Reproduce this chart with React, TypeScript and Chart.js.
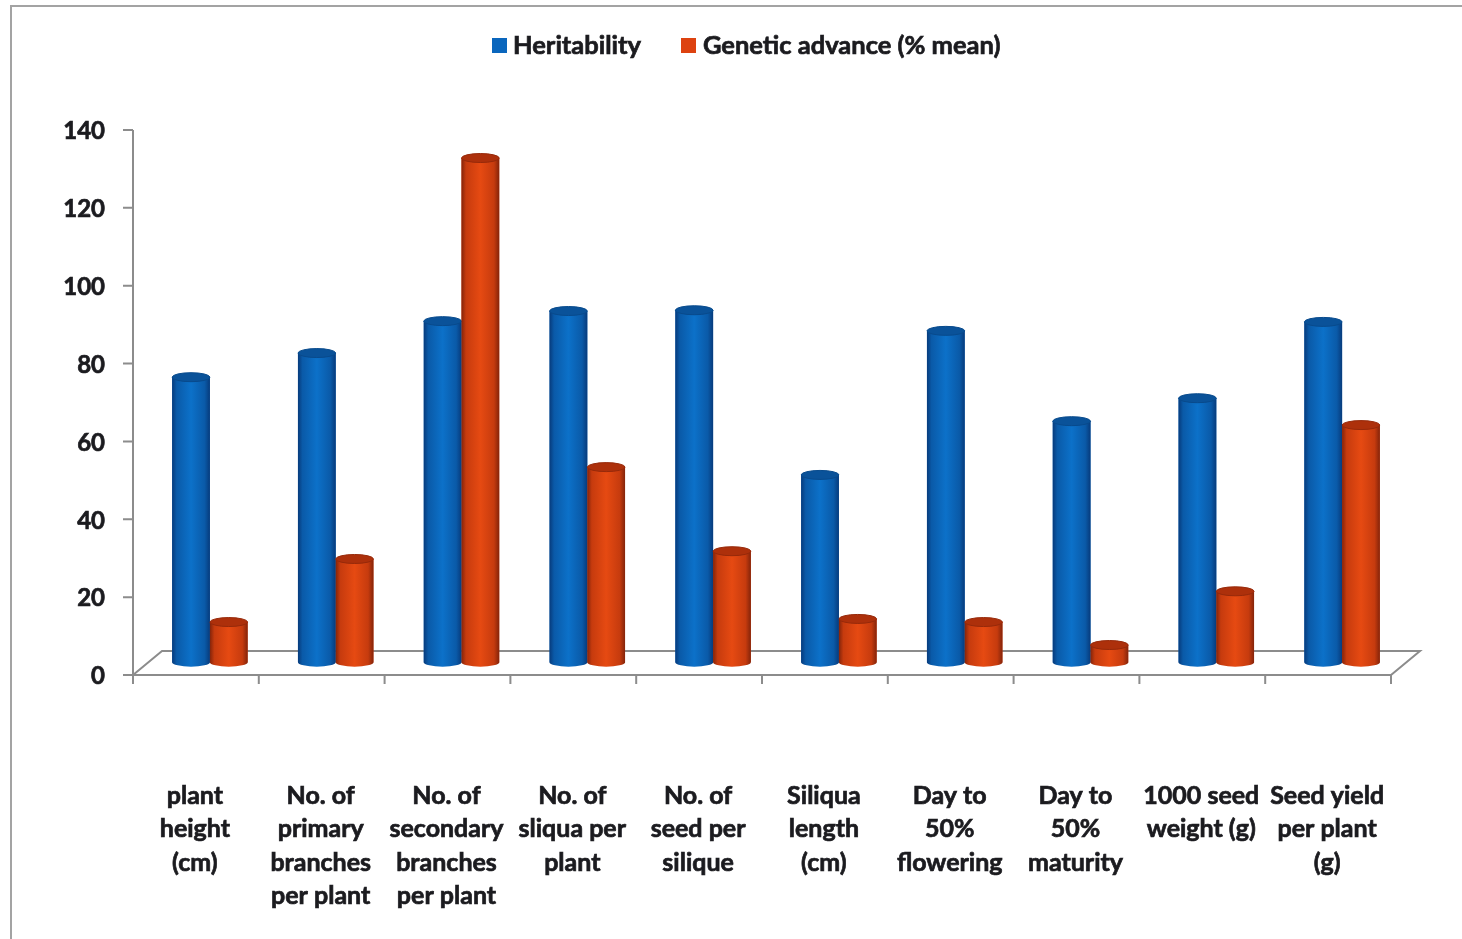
import React, { useEffect, useRef } from "react";
import { Chart, registerables } from "chart.js";

Chart.register(...registerables);

const categories: string[][] = [
  ["plant", "height", "(cm)"],
  ["No. of", "primary", "branches", "per plant"],
  ["No. of", "secondary", "branches", "per plant"],
  ["No. of", "sliqua per", "plant"],
  ["No. of", "seed per", "silique"],
  ["Siliqua", "length", "(cm)"],
  ["Day to", "50%", "flowering"],
  ["Day to", "50%", "maturity"],
  ["1000 seed", "weight (g)"],
  ["Seed yield", "per plant", "(g)"],
];
const heritability = [76.5, 82.7, 90.9, 93.5, 93.7, 51.4, 88.4, 65.2, 71.1, 90.7];
const geneticAdvance = [13.6, 29.8, 132.8, 53.4, 31.8, 14.4, 13.6, 7.7, 21.5, 64.2];

const FONT = "Lato, 'Open Sans', sans-serif";
const TEXT = "#1b1b1f";
const AXIS = "#8c8c8c";
const BLUE = "#0a66bd";
const RED = "#dd4210";
const FLOOR_BASE = 3.3;
const DEPTH_X = 29;
const DEPTH_Y = 24;
const SHIFT = 14;

const shades: Record<string, { edge: string; side: string; mid: string; cap: string; rim: string }> = {
  [BLUE]: { edge: "#073b7c", side: "#0a5aa8", mid: "#0c71c9", cap: "#0a5299", rim: "#084a8c" },
  [RED]: { edge: "#84240a", side: "#c63b0e", mid: "#e64a12", cap: "#ad300b", rim: "#96290a" },
};

// Cylinders are painted over the flat bars, using each element's own geometry.
function paintCylinder(ctx: CanvasRenderingContext2D, el: any, color: string) {
  const s = shades[color];
  const { x, y, base, width } = el;
  const l = x - width / 2;
  const rx = width / 2;
  const ry = 4.5;
  const g = ctx.createLinearGradient(l, 0, l + width, 0);
  g.addColorStop(0, s.edge);
  g.addColorStop(0.12, s.side);
  g.addColorStop(0.5, s.mid);
  g.addColorStop(0.86, s.side);
  g.addColorStop(1, s.edge);
  ctx.fillStyle = g;
  ctx.beginPath();
  ctx.moveTo(l, y);
  ctx.lineTo(l, base);
  ctx.ellipse(x, base, rx, ry, 0, Math.PI, 0, true);
  ctx.lineTo(l + width, y);
  ctx.closePath();
  ctx.fill();
  ctx.fillStyle = s.cap;
  ctx.strokeStyle = s.rim;
  ctx.lineWidth = 1;
  ctx.beginPath();
  ctx.ellipse(x, y, rx, ry, 0, 0, Math.PI * 2);
  ctx.fill();
  ctx.stroke();
}

const sceneryPlugin = {
  id: "scenery",
  beforeDatasetsDraw(chart: any) {
    const { ctx, scales } = chart;
    const xs = scales.x;
    const ys = scales.y;
    const step = xs.width / categories.length;
    const left = xs.left - SHIFT;
    const right = left + step * categories.length;
    const y0 = ys.getPixelForValue(0);
    const yTop = ys.getPixelForValue(140);
    ctx.save();

    // sheet outline
    ctx.strokeStyle = "#a3a3a3";
    ctx.lineWidth = 2;
    ctx.beginPath();
    ctx.moveTo(11, 939);
    ctx.lineTo(11, 6);
    ctx.lineTo(1462, 6);
    ctx.stroke();

    // floor and axes
    ctx.strokeStyle = AXIS;
    ctx.lineWidth = 2;
    ctx.beginPath();
    ctx.moveTo(left, yTop);
    ctx.lineTo(left, y0);
    ctx.lineTo(right, y0);
    ctx.lineTo(right + DEPTH_X, y0 - DEPTH_Y);
    ctx.lineTo(left + DEPTH_X, y0 - DEPTH_Y);
    ctx.lineTo(left, y0);
    ctx.stroke();

    ctx.beginPath();
    ys.ticks.forEach((t: any) => {
      const p = ys.getPixelForValue(t.value);
      ctx.moveTo(left - 10, p);
      ctx.lineTo(left, p);
    });
    for (let i = 0; i <= categories.length; i++) {
      const p = left + step * i;
      ctx.moveTo(p, y0);
      ctx.lineTo(p, y0 + 9);
    }
    ctx.stroke();
    ctx.restore();
  },
  afterDatasetsDraw(chart: any) {
    const { ctx } = chart;
    ctx.save();
    chart.data.datasets.forEach((ds: any, i: number) => {
      chart.getDatasetMeta(i).data.forEach((el: any) => paintCylinder(ctx, el, ds.backgroundColor));
    });
    ctx.restore();
  },
  afterDraw(chart: any) {
    const { ctx } = chart;
    const items = [
      { x: 492, box: 15, textX: 513 },
      { x: 681, box: 15, textX: 703 },
    ];
    ctx.save();
    ctx.font = `bold 25.5px ${FONT}`;
    ctx.textBaseline = "middle";
    ctx.lineWidth = 0.7;
    chart.data.datasets.forEach((ds: any, i: number) => {
      const it = items[i];
      ctx.fillStyle = ds.backgroundColor;
      ctx.fillRect(it.x, 38, it.box, it.box);
      ctx.fillStyle = TEXT;
      ctx.strokeStyle = TEXT;
      ctx.fillText(ds.label, it.textX, 46);
      ctx.strokeText(ds.label, it.textX, 46);
    });
    ctx.restore();
  },
};

export default function App() {
  const ref = useRef<HTMLCanvasElement>(null);
  useEffect(() => {
    if (!ref.current) return;
    const chart = new Chart(ref.current, {
      type: "bar",
      data: {
        labels: categories as any,
        datasets: [
          { label: "Heritability", data: heritability, backgroundColor: BLUE, base: FLOOR_BASE } as any,
          { label: "Genetic advance (% mean)", data: geneticAdvance, backgroundColor: RED, base: FLOOR_BASE } as any,
        ],
      },
      options: {
        animation: false,
        responsive: false,
        layout: { padding: { top: 130, right: 57, left: 0, bottom: 0 } },
        plugins: { legend: { display: false }, title: { display: false }, tooltip: { enabled: false } },
        datasets: { bar: { barPercentage: 1, categoryPercentage: 0.6 } },
        scales: {
          x: {
            grid: { display: false, drawTicks: false },
            border: { display: false },
            afterFit: (s: any) => {
              s.height = 264;
              s.paddingLeft = 0;
              s.paddingRight = 0;
            },
            ticks: {
              autoSkip: false,
              maxRotation: 0,
              minRotation: 0,
              padding: 104,
              labelOffset: -SHIFT - 1,
              color: TEXT,
              textStrokeColor: TEXT,
              textStrokeWidth: 0.7,
              font: { family: FONT, size: 25, weight: "bold", lineHeight: 1.34 },
            },
          },
          y: {
            min: 0,
            max: 140,
            grid: { display: false, drawTicks: false },
            border: { display: false },
            afterFit: (s: any) => {
              s.width = 147;
            },
            ticks: {
              stepSize: 20,
              padding: 42,
              labelOffset: 1.5,
              color: TEXT,
              textStrokeColor: TEXT,
              textStrokeWidth: 0.7,
              font: { family: FONT, size: 24, weight: "bold" },
            },
          },
        },
      },
      plugins: [sceneryPlugin],
    } as any);
    return () => chart.destroy();
  }, []);
  return (
    <div style={{ position: "absolute", left: 0, top: 0, width: 1462, height: 939, background: "#fff" }}>
      <canvas ref={ref} width={1462} height={939} style={{ display: "block" }} />
    </div>
  );
}
